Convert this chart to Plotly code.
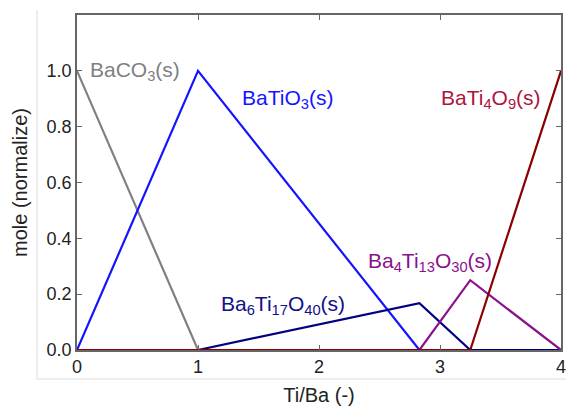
import plotly.graph_objects as go

ratio = [0, 1, 2.83, 3.25, 4]
baco3 = [1, 0, 0, 0, 0]
batio3 = [0, 1, 0, 0, 0]
ba6ti17o40 = [0, 0, 0.168, 0, 0]
ba4ti13o30 = [0, 0, 0, 0.25, 0]
bati4o9 = [0, 0, 0, 0, 1]

series = [
    ("BaCO<sub>3</sub>(s)", baco3, "#808080", "#808080", 0.09, 1.0, "left"),
    ("BaTiO<sub>3</sub>(s)", batio3, "#1414ff", "#1414ff", 1.74, 0.90, "center"),
    ("Ba<sub>6</sub>Ti<sub>17</sub>O<sub>40</sub>(s)", ba6ti17o40, "#000080", "#10108a", 1.70, 0.16, "center"),
    ("Ba<sub>4</sub>Ti<sub>13</sub>O<sub>30</sub>(s)", ba4ti13o30, "#8b108b", "#8b108b", 2.92, 0.315, "center"),
    ("BaTi<sub>4</sub>O<sub>9</sub>(s)", bati4o9, "#8b0000", "#b0143c", 3.42, 0.90, "center"),
]

fig = go.Figure()
for name, ys, lc, tc, ax, ay, al in series:
    fig.add_trace(go.Scatter(x=ratio, y=ys, mode="lines", name=name,
                             line=dict(color=lc, width=2.2), showlegend=False))
    fig.add_annotation(x=ax, y=ay, text=name, showarrow=False, xanchor=al,
                       font=dict(color=tc, size=21))

axis_common = dict(showline=True, linecolor="#666666", linewidth=1.5, mirror="ticks",
                   ticks="inside", ticklen=5, tickcolor="#666666", showgrid=False,
                   zeroline=False, automargin=False, ticklabeloverflow="allow",
                   tickfont=dict(size=18, color="#222"))

fig.update_xaxes(range=[0, 4], dtick=1, title=dict(text="Ti/Ba (-)", font=dict(size=20, color="#222"), standoff=14),
                 **axis_common)
fig.update_yaxes(range=[0, 1.2], tickvals=[0, 0.2, 0.4, 0.6, 0.8, 1.0], tickformat=".1f",
                 title=dict(text="mole (normalize)", font=dict(size=20, color="#222"), standoff=14),
                 **axis_common)

# faint outer frame (left and bottom edges)
fig.add_shape(type="line", xref="paper", yref="paper", x0=(37 - 77) / 484, x1=(37 - 77) / 484,
              y0=(350 - 379) / 335, y1=(350 - 10) / 335, line=dict(color="#dddddd", width=1))
fig.add_shape(type="line", xref="paper", yref="paper", x0=(37 - 77) / 484, x1=(570 - 77) / 484,
              y0=(350 - 379) / 335, y1=(350 - 379) / 335, line=dict(color="#dddddd", width=1))

fig.update_layout(width=566, height=406, margin=dict(l=77, r=5, t=15, b=56),
                  plot_bgcolor="white", paper_bgcolor="white",
                  font=dict(family="Liberation Sans, Arial, sans-serif"))

fig.write_html("out.html")
